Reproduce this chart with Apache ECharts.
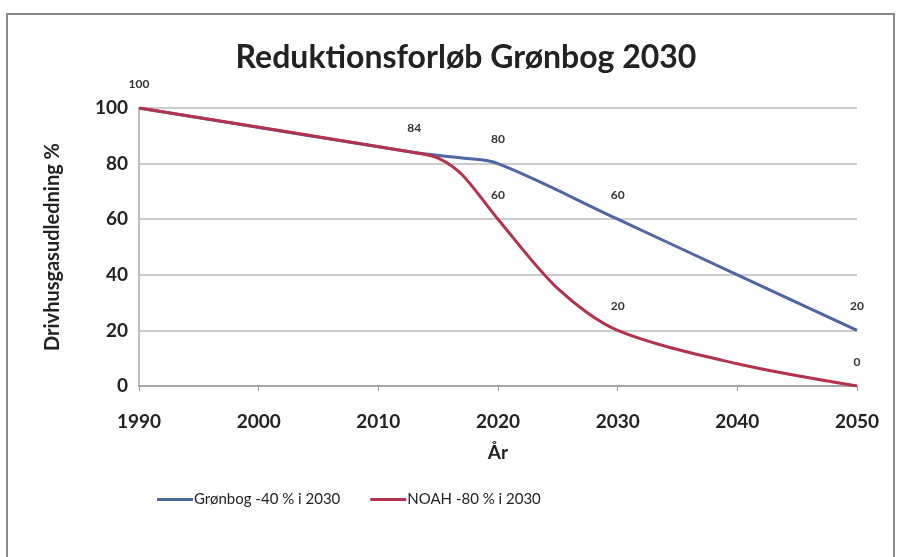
<!DOCTYPE html>
<html>
<head>
<meta charset="utf-8">
<script src="https://cdn.jsdelivr.net/npm/echarts@6/dist/echarts.min.js"></script>
<style>html,body{margin:0;padding:0;background:#fff}#c{width:901px;height:557px}</style>
</head>
<body>
<div id="c"></div>
<script>
var titleText = 'Reduktionsforløb Grønbog 2030';
var seriesNames = ['Grønbog -40 % i 2030', 'NOAH -80 % i 2030'];
var xTicks = [1990, 2000, 2010, 2020, 2030, 2040, 2050];
var blueYears = [1990, 2013, 2017, 2020, 2030, 2040, 2050];
var blueValues = [100, 84, 82, 80, 60, 40, 20];
var blueLabeled = [1990, 2013, 2020, 2030, 2050];
var redYears = [1990, 2013, 2015, 2017, 2020, 2025, 2030, 2040, 2050];
var redValues = [100, 84, 82, 76, 60, 35, 20, 8, 0];
var redLabeled = [2020, 2030, 2050];

var font = 'Lato, "Open Sans", sans-serif';
function build(years, values, labeled) {
  return years.map(function (y, i) {
    var item = { value: [y, values[i]] };
    if (labeled.indexOf(y) >= 0) {
      item.label = { show: true };
    }
    return item;
  });
}
var lbl = { show: false, position: 'top', distance: 18, fontSize: 12, fontWeight: 'bold', color: '#333', fontFamily: font,
  formatter: function (p) { return p.value[1]; } };

var chart = echarts.init(document.getElementById('c'));
chart.setOption({
  animation: false,
  backgroundColor: '#fff',
  graphic: [{ type: 'rect', shape: { x: 7, y: 14, width: 887, height: 560 }, style: { fill: 'none', stroke: '#8a8a8a', lineWidth: 2 } }],
  title: { text: titleText, left: 461, top: 37, textAlign: 'center',
    textStyle: { fontFamily: font, fontSize: 32, fontWeight: 'bold', color: '#222' } },
  legend: { left: 152, top: 487, itemWidth: 36, itemHeight: 3, itemGap: 30, icon: 'rect',
    textStyle: { fontFamily: font, fontSize: 15, color: '#222', padding: [0, 0, 0, -4] },
    data: [{ name: seriesNames[0], itemStyle: { color: '#4e67a3', opacity: 1 } },
           { name: seriesNames[1], itemStyle: { color: '#b3324e', opacity: 1 } }] },
  grid: { left: 139, right: 44, top: 108, bottom: 171 },
  xAxis: { type: 'value', min: 1990, max: 2050, interval: 10, name: 'År', nameLocation: 'middle', nameGap: 57,
    nameTextStyle: { fontFamily: font, fontSize: 19, fontWeight: 'bold', color: '#222' },
    axisLine: { lineStyle: { color: '#999', width: 1.5 } },
    axisTick: { show: true, length: 5, lineStyle: { color: '#999' } },
    axisLabel: { fontFamily: font, fontSize: 19, fontWeight: 'bold', color: '#222', margin: 26,
      formatter: function (v) { return xTicks.indexOf(v) >= 0 ? String(v) : ''; } },
    splitLine: { show: false } },
  yAxis: { type: 'value', min: 0, max: 100, interval: 20, name: 'Drivhusgasudledning %', nameLocation: 'middle', nameGap: 76,
    nameTextStyle: { fontFamily: font, fontSize: 20, fontWeight: 'bold', color: '#222' },
    axisLine: { show: true, lineStyle: { color: '#aaa', width: 1.5 } },
    axisTick: { show: false },
    axisLabel: { fontFamily: font, fontSize: 19, fontWeight: 'bold', color: '#222', margin: 11 },
    splitLine: { lineStyle: { color: '#bbb', width: 1.5 } } },
  series: [
    { name: seriesNames[0], type: 'line', smooth: 0.35, symbol: 'circle', symbolSize: 0.01, showSymbol: true,
      lineStyle: { color: '#4e67a3', width: 3 }, itemStyle: { color: '#4e67a3' },
      label: lbl, data: build(blueYears, blueValues, blueLabeled) },
    { name: seriesNames[1], type: 'line', smooth: 0.3, symbol: 'circle', symbolSize: 0.01, showSymbol: true,
      lineStyle: { color: '#b3324e', width: 3 }, itemStyle: { color: '#b3324e' },
      label: lbl, data: build(redYears, redValues, redLabeled) }
  ]
});
</script>
</body>
</html>
